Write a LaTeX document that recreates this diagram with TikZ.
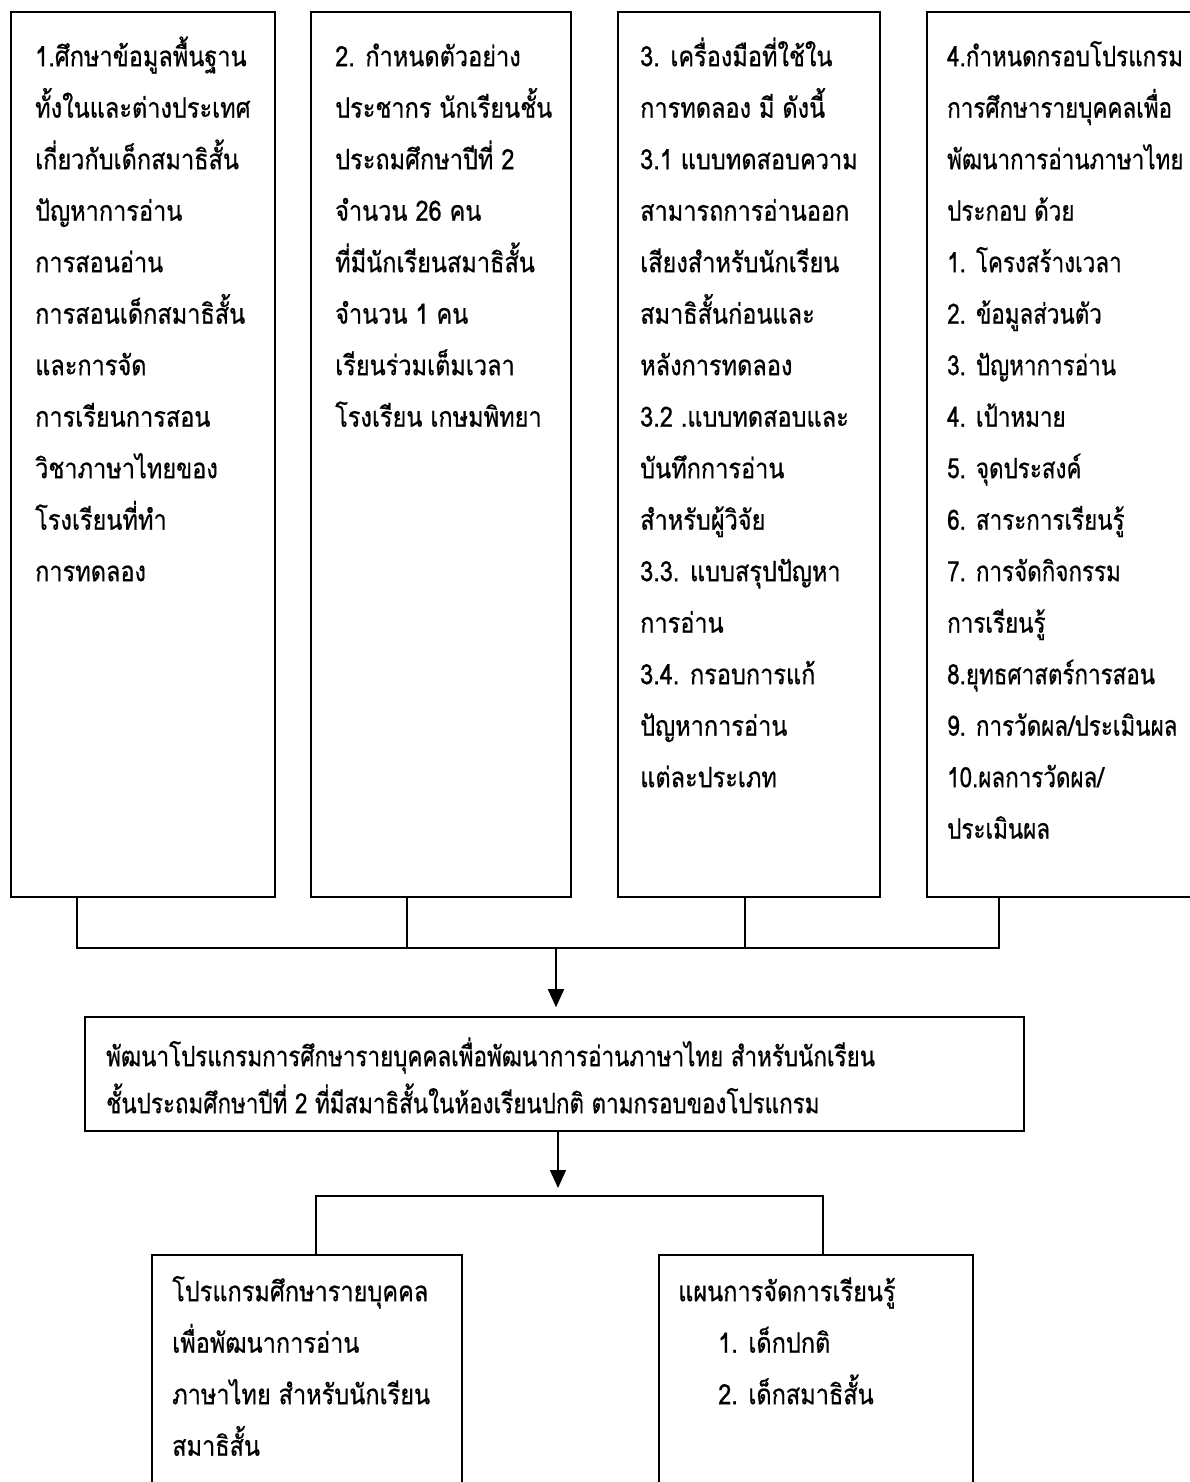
\documentclass[tikz,border=0pt]{standalone}
\usepackage{fontspec}
\newfontfamily\thai[Script=Thai,FakeStretch=0.84,FakeBold=0.6]{Loma}
\newfontfamily\thainarrow[Script=Thai,FakeStretch=0.8,FakeBold=0.6]{Loma}
\usetikzlibrary{arrows.meta}
\newcommand{\topstrut}{\rule{0pt}{30pt}}
\begin{document}
\begin{tikzpicture}[x=1pt,y=-1pt,
  box/.style={draw, line width=1.6pt, inner sep=0pt},
  txt/.style={anchor=north west, inner sep=0pt, align=left, font=\thai\fontsize{28}{51.5}\selectfont},
  txtn/.style={anchor=north west, inner sep=0pt, align=left, font=\thainarrow\fontsize{28}{51.5}\selectfont},
  txtm/.style={anchor=north west, inner sep=0pt, align=left, font=\thainarrow\fontsize{28}{47}\selectfont},
  link/.style={line width=1.6pt},
  arr/.style={line width=1.6pt, -{Triangle[length=18pt,width=16pt]}}
]
\fill[white] (0,0) rectangle (1190,1482);
\useasboundingbox (0,0) rectangle (1190,1482);

% top boxes
\node[box, minimum width=264pt, minimum height=885pt] (b1) at (143,454.5) {};
\node[box, minimum width=260pt, minimum height=885pt] (b2) at (441,454.5) {};
\node[box, minimum width=262pt, minimum height=885pt] (b3) at (749,454.5) {};
\node[box, minimum width=283pt, minimum height=885pt] (b4) at (1068.5,454.5) {};

\node[txt] (t1) at (35,36) {\topstrut 1.ศึกษาข้อมูลพื้นฐาน\\ทั้งในและต่างประเทศ\\เกี่ยวกับเด็กสมาธิสั้น\\ปัญหาการอ่าน\\การสอนอ่าน\\การสอนเด็กสมาธิสั้น\\และการจัด\\การเรียนการสอน\\วิชาภาษาไทยของ\\โรงเรียนที่ทำ\\การทดลอง};
\node[txt] (t2) at (335,36) {\topstrut 2. กำหนดตัวอย่าง\\ประชากร นักเรียนชั้น\\ประถมศึกษาปีที่ 2\\จำนวน 26 คน\\ที่มีนักเรียนสมาธิสั้น\\จำนวน 1 คน\\เรียนร่วมเต็มเวลา\\โรงเรียน เกษมพิทยา};
\node[txt] (t3) at (640,36) {\topstrut 3. เครื่องมือที่ใช้ใน\\การทดลอง มี ดังนี้\\3.1 แบบทดสอบความ\\สามารถการอ่านออก\\เสียงสำหรับนักเรียน\\สมาธิสั้นก่อนและ\\หลังการทดลอง\\3.2 .แบบทดสอบและ\\บันทึกการอ่าน\\สำหรับผู้วิจัย\\3.3. แบบสรุปปัญหา\\การอ่าน\\3.4. กรอบการแก้\\ปัญหาการอ่าน\\แต่ละประเภท};
\node[txtn] (t4) at (947,36) {\topstrut 4.กำหนดกรอบโปรแกรม\\การศึกษารายบุคคลเพื่อ\\พัฒนาการอ่านภาษาไทย\\ประกอบ ด้วย\\1. โครงสร้างเวลา\\2. ข้อมูลส่วนตัว\\3. ปัญหาการอ่าน\\4. เป้าหมาย\\5. จุดประสงค์\\6. สาระการเรียนรู้\\7. การจัดกิจกรรม\\การเรียนรู้\\8.ยุทธศาสตร์การสอน\\9. การวัดผล/ประเมินผล\\10.ผลการวัดผล/\\ประเมินผล};

% joining bar
\coordinate (j1) at (77,948);
\coordinate (j2) at (407,948);
\coordinate (j3) at (745,948);
\coordinate (j4) at (999,948);
\coordinate (ja) at (556,948);
\draw[link] (b1.south -| j1) -- (j1) -- (j4) -- (b4.south -| j4);
\draw[link] (b2.south -| j2) -- (j2);
\draw[link] (b3.south -| j3) -- (j3);

% middle box
\node[box, minimum width=939pt, minimum height=114pt] (mid) at (554.5,1074) {};
\node[txtm] (tm) at (106,1036) {\topstrut พัฒนาโปรแกรมการศึกษารายบุคคลเพื่อพัฒนาการอ่านภาษาไทย สำหรับนักเรียน\\ชั้นประถมศึกษาปีที่ 2 ที่มีสมาธิสั้นในห้องเรียนปกติ ตามกรอบของโปรแกรม};
\draw[arr, shorten >=9pt] (ja) -- (mid.north -| ja);

% lower split
\coordinate (k) at (558,1196);
\coordinate (kl) at (316,1196);
\coordinate (kr) at (823,1196);
\node[box, minimum width=310pt, minimum height=245pt] (bl) at (307,1377.5) {};
\node[box, minimum width=314pt, minimum height=245pt] (br) at (816,1377.5) {};
\draw[arr, shorten >=8pt] (mid.south -| k) -- (k);
\draw[link] (bl.north -| kl) -- (kl) -- (kr) -- (br.north -| kr);

\node[txt] (tl) at (172,1271) {\topstrut โปรแกรมศึกษารายบุคคล\\เพื่อพัฒนาการอ่าน\\ภาษาไทย สำหรับนักเรียน\\สมาธิสั้น};
\node[txt] (tr) at (678,1271) {\topstrut แผนการจัดการเรียนรู้\\\hspace*{40pt}1. เด็กปกติ\\\hspace*{40pt}2. เด็กสมาธิสั้น};
\end{tikzpicture}
\end{document}
